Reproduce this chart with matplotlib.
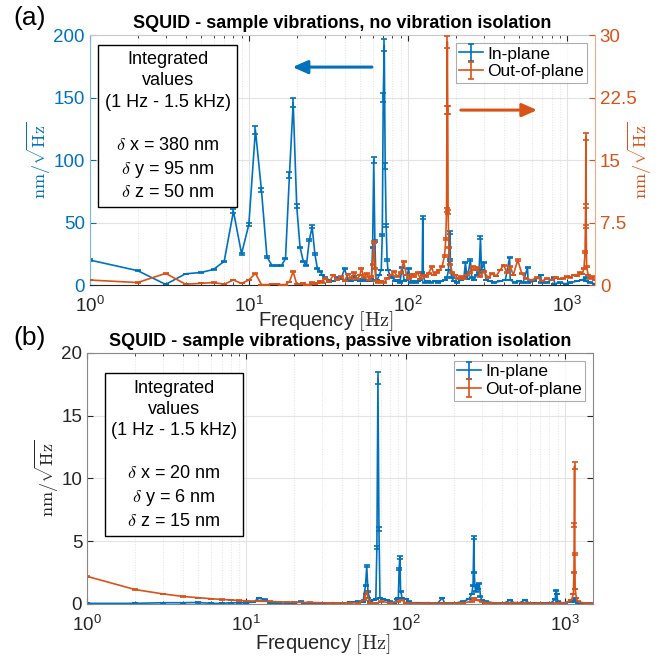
import numpy as np
import matplotlib
matplotlib.use("Agg")
import matplotlib.pyplot as plt
from matplotlib.ticker import FixedLocator, NullFormatter

plt.rcParams['font.family'] = ['Liberation Sans', 'DejaVu Sans']
plt.rcParams['mathtext.fontset'] = 'cm'

BLUE = '#0072BD'
ORANGE = '#D95319'
GRAY = '#262626'

# ---- (a) no vibration isolation ----
f_a_in = [1, 2, 3, 4, 5, 6, 7, 8, 9, 10, 11, 12, 13, 14, 15, 16, 17, 18, 19, 20,
          21, 22, 23, 24, 25, 26, 27, 28, 29, 30, 32, 34, 36, 38, 40, 42, 44, 46, 48, 50,
          52, 54, 56, 58, 59, 60, 61, 62, 63, 64, 66, 68, 69, 70, 71, 72, 73, 74, 75, 77,
          80, 83, 86, 89, 92, 95, 98, 101, 104, 108, 112, 116, 120, 123, 124, 125, 128, 133, 140, 147,
          155, 162, 170, 176, 180, 183, 185, 188, 195, 205, 215, 225, 230, 236, 240, 247, 252, 260, 270, 280,
          286, 290, 300, 310, 330, 350, 380, 410, 436, 440, 470, 500, 530, 565, 570, 620, 684, 690, 750, 830,
          835, 900, 980, 1050, 1150, 1250, 1310, 1320, 1400, 1500]
v_a_in = [20, 11.5, 0.5, 9, 10, 12.5, 19, 59, 25, 48.5, 124, 76, 22.5, 15.5, 15.5, 15.5, 21, 88, 146, 63,
          30, 19, 15.5, 36, 46.5, 25, 13, 11, 8, 6, 4, 3, 6, 5, 13, 4, 3, 7, 4, 3,
          5, 3, 4, 3, 5, 30, 100, 35, 3, 4, 8, 12, 40, 150, 192, 95, 48, 20, 12, 8,
          6, 3, 4, 2, 14, 3, 4, 13, 2, 3, 2, 3, 4, 10, 54, 8, 2, 3, 2, 3,
          2, 3, 4, 6, 12, 42, 20, 6, 3, 2, 4, 6, 18, 5, 10, 20, 6, 4, 8, 10,
          38, 12, 18, 4, 3, 2, 3, 4, 22, 4, 2, 3, 2, 14, 2, 3, 8, 2, 2, 6,
          1, 2, 1, 2, 3, 4, 6, 3, 2, 1]

f_a_out = [1, 2, 3, 4, 5, 6, 7, 8, 9, 10, 11, 12, 13, 14, 15, 16, 17, 18, 19, 20,
           21, 22, 23, 24, 25, 26, 27, 28, 29, 30, 32, 34, 36, 38, 40, 42, 44, 46, 48, 50,
           51, 53, 55, 57, 59, 60, 61, 62, 63, 65, 68, 71, 74, 78, 82, 86, 90, 94, 98, 102,
           106, 110, 115, 120, 125, 130, 135, 141, 146, 152, 158, 164, 170, 173, 175, 176, 177, 178, 179, 181,
           184, 190, 198, 206, 215, 225, 235, 245, 255, 265, 275, 285, 300, 320, 340, 360, 380, 400, 420, 440,
           460, 490, 520, 550, 600, 650, 700, 750, 800, 850, 900, 950, 1000, 1050, 1100, 1150, 1200, 1250, 1280, 1300,
           1310, 1315, 1320, 1330, 1360, 1400, 1450, 1500]
v_a_out = [0.6, 0.3, 1.4, 0.1, 0.2, 0.3, 0.1, 0.6, 0.2, 0.6, 1.4, 0.05, 0.05, 0.1, 0.1, 0.05, 0.05, 0.4, 1.6, 0.1,
           0.1, 0.25, 0.05, 0.05, 0.3, 0.1, 0.2, 0.5, 0.3, 0.8, 0.4, 1.2, 0.6, 1.0, 0.5, 1.3, 0.8, 1.5, 0.7, 1.2,
           2.0, 0.9, 1.4, 0.6, 1.0, 2.5, 5.2, 2.0, 0.5, 0.3, 0.5, 0.3, 0.8, 1.2, 1.6, 1.0, 1.5, 2.8, 1.2, 0.8,
           1.3, 1.0, 1.5, 0.7, 1.2, 1.0, 1.4, 2.2, 1.2, 1.5, 1.8, 2.2, 3.5, 5.5, 9, 21, 29.2, 21, 8.8, 4.5,
           2.5, 1.5, 1.2, 0.8, 1.0, 0.7, 1.2, 1.5, 2.2, 1.8, 2.1, 1.0, 1.6, 0.9, 1.4, 1.1, 1.8, 2.4, 1.5, 2.2,
           1.2, 3.0, 1.4, 0.8, 0.6, 0.9, 0.5, 0.8, 0.6, 0.9, 0.7, 0.8, 1.0, 0.9, 1.2, 1.1, 1.5, 1.3, 2.0, 4.0,
           9.5, 17.8, 7.0, 2.2, 1.2, 0.8, 1.0, 0.6]

# ---- (b) passive vibration isolation ----
f_b_in = [1, 2, 3, 4, 5, 6, 7, 8, 9, 10, 11, 12, 13, 14, 15, 16, 18, 20, 22, 23,
          25, 28, 30, 35, 40, 45, 50, 54, 56, 57, 58, 60, 63, 65, 66, 67, 68, 69, 72, 76,
          80, 85, 88, 90, 91, 92, 93, 95, 100, 105, 110, 120, 130, 140, 150, 160, 170, 175, 190, 210,
          230, 250, 260, 265, 268, 270, 272, 275, 280, 285, 290, 295, 300, 320, 350, 380, 420, 450, 480, 520,
          560, 600, 650, 700, 760, 820, 870, 880, 890, 900, 950, 1000, 1100, 1140, 1150, 1160, 1200, 1300, 1400, 1500]
v_b_in = [0.05, 0.05, 0.1, 0.1, 0.12, 0.05, 0.05, 0.1, 0.1, 0.1, 0.15, 0.45, 0.35, 0.1, 0.1, 0.08, 0.08, 0.05, 0.2, 0.05,
          0.05, 0.05, 0.05, 0.1, 0.05, 0.15, 0.2, 0.15, 1.5, 3.0, 1.0, 0.2, 0.3, 0.4, 4.5, 18, 6.0, 0.5, 0.4, 0.3,
          0.2, 0.1, 0.4, 0.5, 2.8, 3.7, 1.0, 0.5, 0.4, 0.2, 0.1, 0.1, 0.1, 0.1, 0.05, 0.1, 0.5, 0.1, 0.05, 0.1,
          0.2, 0.4, 0.8, 1.5, 5.3, 2.5, 1.5, 1.0, 1.5, 1.2, 1.6, 0.6, 0.3, 0.2, 0.1, 0.05, 0.1, 0.3, 0.1, 0.1,
          0.3, 0.05, 0.05, 0.05, 0.1, 0.1, 0.4, 1.1, 0.8, 0.2, 0.1, 0.1, 0.2, 0.3, 0.5, 0.2, 0.05, 0.05, 0.05, 0.05]

f_b_out = [1, 2, 3, 4, 5, 6, 7, 8, 9, 10, 12, 14, 16, 18, 20, 25, 30, 35, 40, 45,
           50, 55, 56, 57, 58, 60, 65, 70, 80, 90, 95, 100, 120, 140, 160, 180, 200, 230, 260, 270,
           280, 300, 320, 350, 400, 450, 500, 550, 600, 700, 800, 900, 1000, 1100, 1130, 1140, 1145, 1150, 1155, 1160,
           1180, 1200, 1300, 1400, 1500]
v_b_out = [2.2, 1.15, 0.8, 0.6, 0.5, 0.42, 0.36, 0.32, 0.28, 0.25, 0.22, 0.2, 0.17, 0.15, 0.14, 0.12, 0.1, 0.09, 0.08, 0.1,
           0.08, 0.3, 0.8, 1.0, 0.5, 0.1, 0.05, 0.2, 0.1, 0.2, 0.3, 0.1, 0.05, 0.1, 0.05, 0.1, 0.05, 0.1, 0.2, 0.5,
           0.3, 0.2, 0.1, 0.1, 0.05, 0.1, 0.1, 0.05, 0.05, 0.05, 0.05, 0.1, 0.1, 0.3, 0.8, 2.5, 6.3, 11.0, 4.0, 1.2,
           0.5, 0.2, 0.1, 0.05, 0.05]

ERR_FRAC = 0.025

box_a = ('Integrated\nvalues\n(1 Hz - 1.5 kHz)\n\n'
         r'$\delta$ x = 380 nm' '\n' r'$\delta$ y = 95 nm' '\n' r'$\delta$ z = 50 nm')
box_b = ('Integrated\nvalues\n(1 Hz - 1.5 kHz)\n\n'
         r'$\delta$ x = 20 nm' '\n' r'$\delta$ y = 6 nm' '\n' r'$\delta$ z = 15 nm')
ylab = r'$\mathrm{nm}/\sqrt{\mathrm{Hz}}$'
xlab = r'Frequency $[\mathrm{Hz}]$'


def errplot(ax, f, v, color, label):
    v = np.array(v)
    return ax.errorbar(f, v, yerr=ERR_FRAC * v, color=color, lw=1.2, elinewidth=1.2,
                       capsize=2.5, capthick=1.2, label=label)


def style_x(ax, label_x, label_y):
    ax.set_xscale('log')
    ax.set_xlim(1, 1500)
    ax.xaxis.set_minor_locator(FixedLocator([k * 10 ** e for e in range(0, 4) for k in range(2, 10)]))
    ax.xaxis.set_minor_formatter(NullFormatter())
    ax.grid(True, which='major', color='#e3e3e3', lw=0.8)
    ax.grid(True, which='minor', axis='x', color='#e3e3e3', lw=0.7, ls=':')
    ax.set_axisbelow(True)
    ax.tick_params(which='both', direction='in', top=True, labelsize=13.5, colors=GRAY)
    ax.tick_params(axis='x', which='major', length=4, pad=8)
    ax.tick_params(which='minor', length=2)
    ax.set_xlabel(xlab, fontsize=14.5, color=GRAY)
    ax.xaxis.set_label_coords(label_x, label_y)
    ax.xaxis.label.set_va('top')


fig = plt.figure(figsize=(6.7, 6.56), dpi=100)

# top panel
ax1 = fig.add_axes([0.134, 0.5655, 0.754, 0.381])
ax1r = ax1.twinx()
style_x(ax1, 0.468, -0.096)
h1 = errplot(ax1, f_a_in, v_a_in, BLUE, 'In-plane')
h2 = errplot(ax1r, f_a_out, v_a_out, ORANGE, 'Out-of-plane')
ax1.set_ylim(0, 200)
ax1.set_yticks([0, 50, 100, 150, 200])
ax1r.set_ylim(0, 30)
ax1r.set_yticks([0, 7.5, 15, 22.5, 30])
ax1r.set_yticklabels(['0', '7.5', '15', '22.5', '30'])
ax1.tick_params(axis='y', colors=BLUE, direction='in', labelsize=13.5, length=4)
ax1r.tick_params(axis='y', colors=ORANGE, direction='in', labelsize=13.5, length=4)
ax1.spines['bottom'].set_color(GRAY)
ax1.spines['top'].set_color('#c8c8c8')
for s in ['top', 'bottom', 'left']:
    ax1r.spines[s].set_visible(False)
ax1.spines['left'].set_color('#7fb6de')
ax1r.spines['right'].set_color('#eca98c')
ax1.spines['right'].set_visible(False)
ax1.set_ylabel(ylab, fontsize=13, color=BLUE, labelpad=0)
ax1r.set_ylabel(ylab, fontsize=13, color=ORANGE, labelpad=-8)
ax1.set_title('SQUID - sample vibrations, no vibration isolation', fontsize=13,
              fontweight='bold', pad=5)
ax1.text(0.154, 0.636, box_a, transform=ax1.transAxes, ha='center', va='center',
         multialignment='center', fontsize=13, linespacing=1.34, color='black',
         bbox=dict(boxstyle='square,pad=0.35', fc='white', ec='black', lw=1.0))
ax1r.annotate('', xy=(0.396, 0.872), xytext=(0.564, 0.872), xycoords='axes fraction',
              arrowprops=dict(arrowstyle='-|>,head_width=0.4,head_length=0.9', color=BLUE, lw=2.2))
ax1r.annotate('', xy=(0.891, 0.70), xytext=(0.729, 0.70), xycoords='axes fraction',
              arrowprops=dict(arrowstyle='-|>,head_width=0.4,head_length=0.9', color=ORANGE, lw=2.2))
leg1 = ax1r.legend([h1, h2], ['In-plane', 'Out-of-plane'], loc='upper right', fontsize=12.5,
                   frameon=True, fancybox=False, edgecolor='#999999', borderpad=0.2,
                   handlelength=1.4, handletextpad=0.2, labelspacing=0.15, borderaxespad=0.45)
leg1.get_frame().set_linewidth(0.8)
fig.text(0.02, 0.972, '(a)', fontsize=19, va='center', ha='left')

# bottom panel
ax2 = fig.add_axes([0.130, 0.0793, 0.755, 0.3826])
style_x(ax2, 0.466, -0.112)
g1 = errplot(ax2, f_b_in, v_b_in, BLUE, 'In-plane')
g2 = errplot(ax2, f_b_out, v_b_out, ORANGE, 'Out-of-plane')
ax2.set_ylim(0, 20)
ax2.set_yticks([0, 5, 10, 15, 20])
ax2.tick_params(axis='y', right=True, direction='in', length=4)
for s in ax2.spines.values():
    s.set_color('#888888')
ax2.set_ylabel(ylab, fontsize=13, color=GRAY, labelpad=0)
ax2.set_title('SQUID - sample vibrations, passive vibration isolation', fontsize=13,
              fontweight='bold', pad=5)
ax2.text(0.172, 0.595, box_b, transform=ax2.transAxes, ha='center', va='center',
         multialignment='center', fontsize=13, linespacing=1.34, color='black',
         bbox=dict(boxstyle='square,pad=0.35', fc='white', ec='black', lw=1.0))
leg2 = ax2.legend([g1, g2], ['In-plane', 'Out-of-plane'], loc='upper right', fontsize=12.5,
                  frameon=True, fancybox=False, edgecolor='#999999', borderpad=0.2,
                  handlelength=1.4, handletextpad=0.2, labelspacing=0.15, borderaxespad=0.45)
leg2.get_frame().set_linewidth(0.8)
fig.text(0.02, 0.484, '(b)', fontsize=19, va='center', ha='left')

fig.savefig('out.png', dpi=100)
